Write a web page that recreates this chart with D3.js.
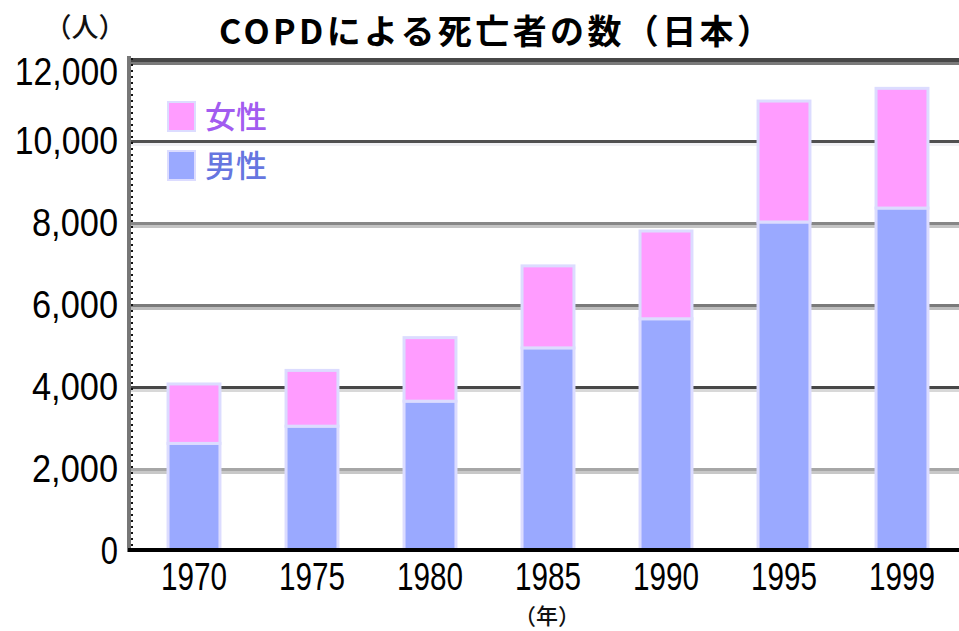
<!DOCTYPE html>
<html>
<head>
<meta charset="utf-8">
<script src="https://cdn.jsdelivr.net/npm/d3@7"></script>
<style>
  html, body { margin: 0; padding: 0; background: #fff; }
  svg { display: block; }
  text { font-family: "Noto Sans CJK JP", "Noto Sans", sans-serif; }
  .num { font-family: "Liberation Sans", Arial, sans-serif; }
</style>
</head>
<body>
<svg id="chart" width="959" height="631"></svg>
<script>
// COPD deaths in Japan by year, stacked male / female
const years = ["1970", "1975", "1980", "1985", "1990", "1995", "1999"];
const male = [2600, 3020, 3630, 4930, 5640, 8000, 8340];
const female = [1450, 1360, 1550, 2000, 2140, 2950, 2920];
const yTicks = [0, 2000, 4000, 6000, 8000, 10000, 12000];
const seriesNames = ["男性", "女性"];

const title = "COPDによる死亡者の数（日本）";
const yUnit = "（人）";
const xUnit = "（年）";

const W = 959, H = 631;
const plotLeft = 130, plotRight = 961, plotTop = 58, plotBottom = 550;

const svg = d3.select("#chart");

const x = d3.scaleBand().domain(years).range([135, plotRight]).paddingInner(0.56).paddingOuter(0.28);
const y = d3.scaleLinear().domain([0, 12000]).range([plotBottom, plotTop]);

const fills = { "男性": "#9aa9ff", "女性": "#ff9cff" };
const textFills = { "男性": "#6676e0", "女性": "#a25cf0" };

// horizontal gridlines: a darker line with a paler shadow line under it
const gridStyles = {
  2000: ["#a6a6a6", "#c8c8c8", 3],
  4000: ["#474747", "#d8d8d8", 3],
  6000: ["#7a7a7a", "#bdbdbd", 3],
  8000: ["#878787", "#c4c4c4", 3],
  10000: ["#505050", "#f0f0f4", 3],
  12000: ["#474747", "#7a7a7a", 4]
};
const grid = svg.append("g");
yTicks.filter(t => t > 0).forEach(t => {
  const s = gridStyles[t];
  const yy = y(t);
  grid.append("line").attr("x1", plotLeft).attr("x2", W).attr("y1", yy + s[2] / 2).attr("y2", yy + s[2] / 2)
    .attr("stroke", s[0]).attr("stroke-width", s[2]);
  grid.append("line").attr("x1", plotLeft).attr("x2", W).attr("y1", yy + s[2] + 1.5).attr("y2", yy + s[2] + 1.5)
    .attr("stroke", s[1]).attr("stroke-width", 3);
});

// stacked bars
const rows = years.map((yr, i) => ({ year: yr, "男性": male[i], "女性": female[i] }));
const stack = d3.stack().keys(seriesNames)(rows);
svg.append("g").selectAll("g").data(stack).join("g")
  .attr("fill", d => fills[d.key])
  .selectAll("rect").data(d => d).join("rect")
  .attr("x", d => x(d.data.year))
  .attr("width", x.bandwidth())
  .attr("y", d => y(d[1]))
  .attr("height", d => y(d[0]) - y(d[1]))
  .attr("stroke", "#dcdcff")
  .attr("stroke-width", 3);

// left axis: grey rule with dark tick dots
svg.append("line").attr("x1", 129).attr("x2", 129).attr("y1", plotTop - 2).attr("y2", plotBottom + 2)
  .attr("stroke", "#777").attr("stroke-width", 4);
svg.append("line").attr("x1", 132).attr("x2", 132).attr("y1", plotTop).attr("y2", plotBottom)
  .attr("stroke", "#111").attr("stroke-width", 2).attr("stroke-dasharray", "2 4");

// bottom axis
svg.append("line").attr("x1", 128).attr("x2", W).attr("y1", plotBottom).attr("y2", plotBottom)
  .attr("stroke", "#000").attr("stroke-width", 4);

// y tick labels (the top one sits just below its gridline)
const fmt = d3.format(",");
svg.append("g").selectAll("text").data(yTicks).join("text")
  .attr("class", "num")
  .attr("x", 118)
  .attr("y", d => d === 12000 ? y(d) + 27 : y(d) + 14)
  .attr("text-anchor", "end")
  .attr("font-size", 38)
  .attr("fill", "#000")
  .attr("textLength", d => fmt(d).length * 17.2)
  .attr("lengthAdjust", "spacingAndGlyphs")
  .text(d => fmt(d));

// x tick labels
svg.append("g").selectAll("text").data(years).join("text")
  .attr("class", "num")
  .attr("x", d => x(d) + x.bandwidth() / 2)
  .attr("y", 590)
  .attr("text-anchor", "middle")
  .attr("font-size", 39)
  .attr("fill", "#000")
  .attr("textLength", 66)
  .attr("lengthAdjust", "spacingAndGlyphs")
  .text(d => d);

// unit labels and title
svg.append("text").attr("x", 85).attr("y", 37).attr("text-anchor", "middle")
  .attr("font-size", 27).attr("font-weight", 500).attr("fill", "#111").text(yUnit);
svg.append("text").attr("x", 547).attr("y", 624).attr("text-anchor", "middle")
  .attr("font-size", 22).attr("font-weight", 500).attr("fill", "#111").text(xUnit);
svg.append("text").attr("x", 495).attr("y", 44).attr("text-anchor", "middle")
  .attr("font-size", 34).attr("font-weight", 700).attr("fill", "#000")
  .attr("textLength", 552).attr("lengthAdjust", "spacing")
  .text(title);

// legend
const legend = svg.append("g");
["女性", "男性"].forEach((k, i) => {
  const g = legend.append("g").attr("transform", `translate(168, ${102 + i * 49})`);
  g.append("rect").attr("width", 27).attr("height", 29).attr("fill", fills[k])
    .attr("stroke", "#dcdcff").attr("stroke-width", 2);
  g.append("text").attr("x", 37).attr("y", 26).attr("font-size", 31).attr("font-weight", 500)
    .attr("fill", textFills[k]).text(k);
});
</script>
</body>
</html>
